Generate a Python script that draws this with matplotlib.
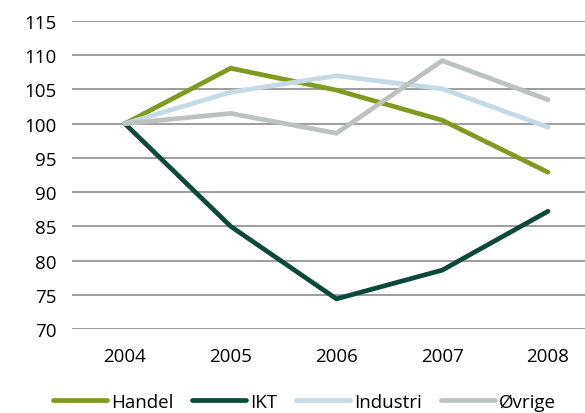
import matplotlib.pyplot as plt

years = ['2004', '2005', '2006', '2007', '2008']
handel = [100, 108.1, 104.9, 100.5, 92.9]
ikt = [100, 85.0, 74.4, 78.6, 87.2]
industri = [100, 104.6, 107.0, 105.1, 99.5]
ovrige = [100, 101.5, 98.6, 109.2, 103.5]

series = [('Handel', handel, '#7f9a1e'),
          ('IKT', ikt, '#0b4a3a'),
          ('Industri', industri, '#c5dae5'),
          ('Øvrige', ovrige, '#bcc2bf')]

plt.rcParams['font.family'] = ['Open Sans', 'DejaVu Sans']

fig = plt.figure(figsize=(5.85, 4.14), dpi=100)
ax = fig.add_axes([72 / 585, 1 - 330 / 414, 1 - 72 / 585, (330 - 22) / 414])

x = range(len(years))
for name, vals, col in series:
    ax.plot(x, vals, color=col, lw=3.4, label=name, solid_capstyle='round', solid_joinstyle='miter')

ax.set_ylim(70, 115)
ax.set_yticks(range(70, 116, 5))
ax.set_xlim(-0.5, 4.35)
ax.set_xticks(list(x))
ax.set_xticklabels(years)
ax.grid(axis='y', color='#8c8c8c', lw=1.2)
ax.set_axisbelow(True)
for s in ax.spines.values():
    s.set_visible(False)
ax.tick_params(length=0, labelsize=13.5, colors='black')
ax.tick_params(axis='y', pad=11)
ax.tick_params(axis='x', pad=13)

fig.legend(loc='lower center', ncol=4, bbox_to_anchor=(0.52, -0.036), frameon=False,
           fontsize=13.5, handlelength=2.9, handletextpad=0.2, columnspacing=1.0)

fig.savefig('out.png', dpi=100)
